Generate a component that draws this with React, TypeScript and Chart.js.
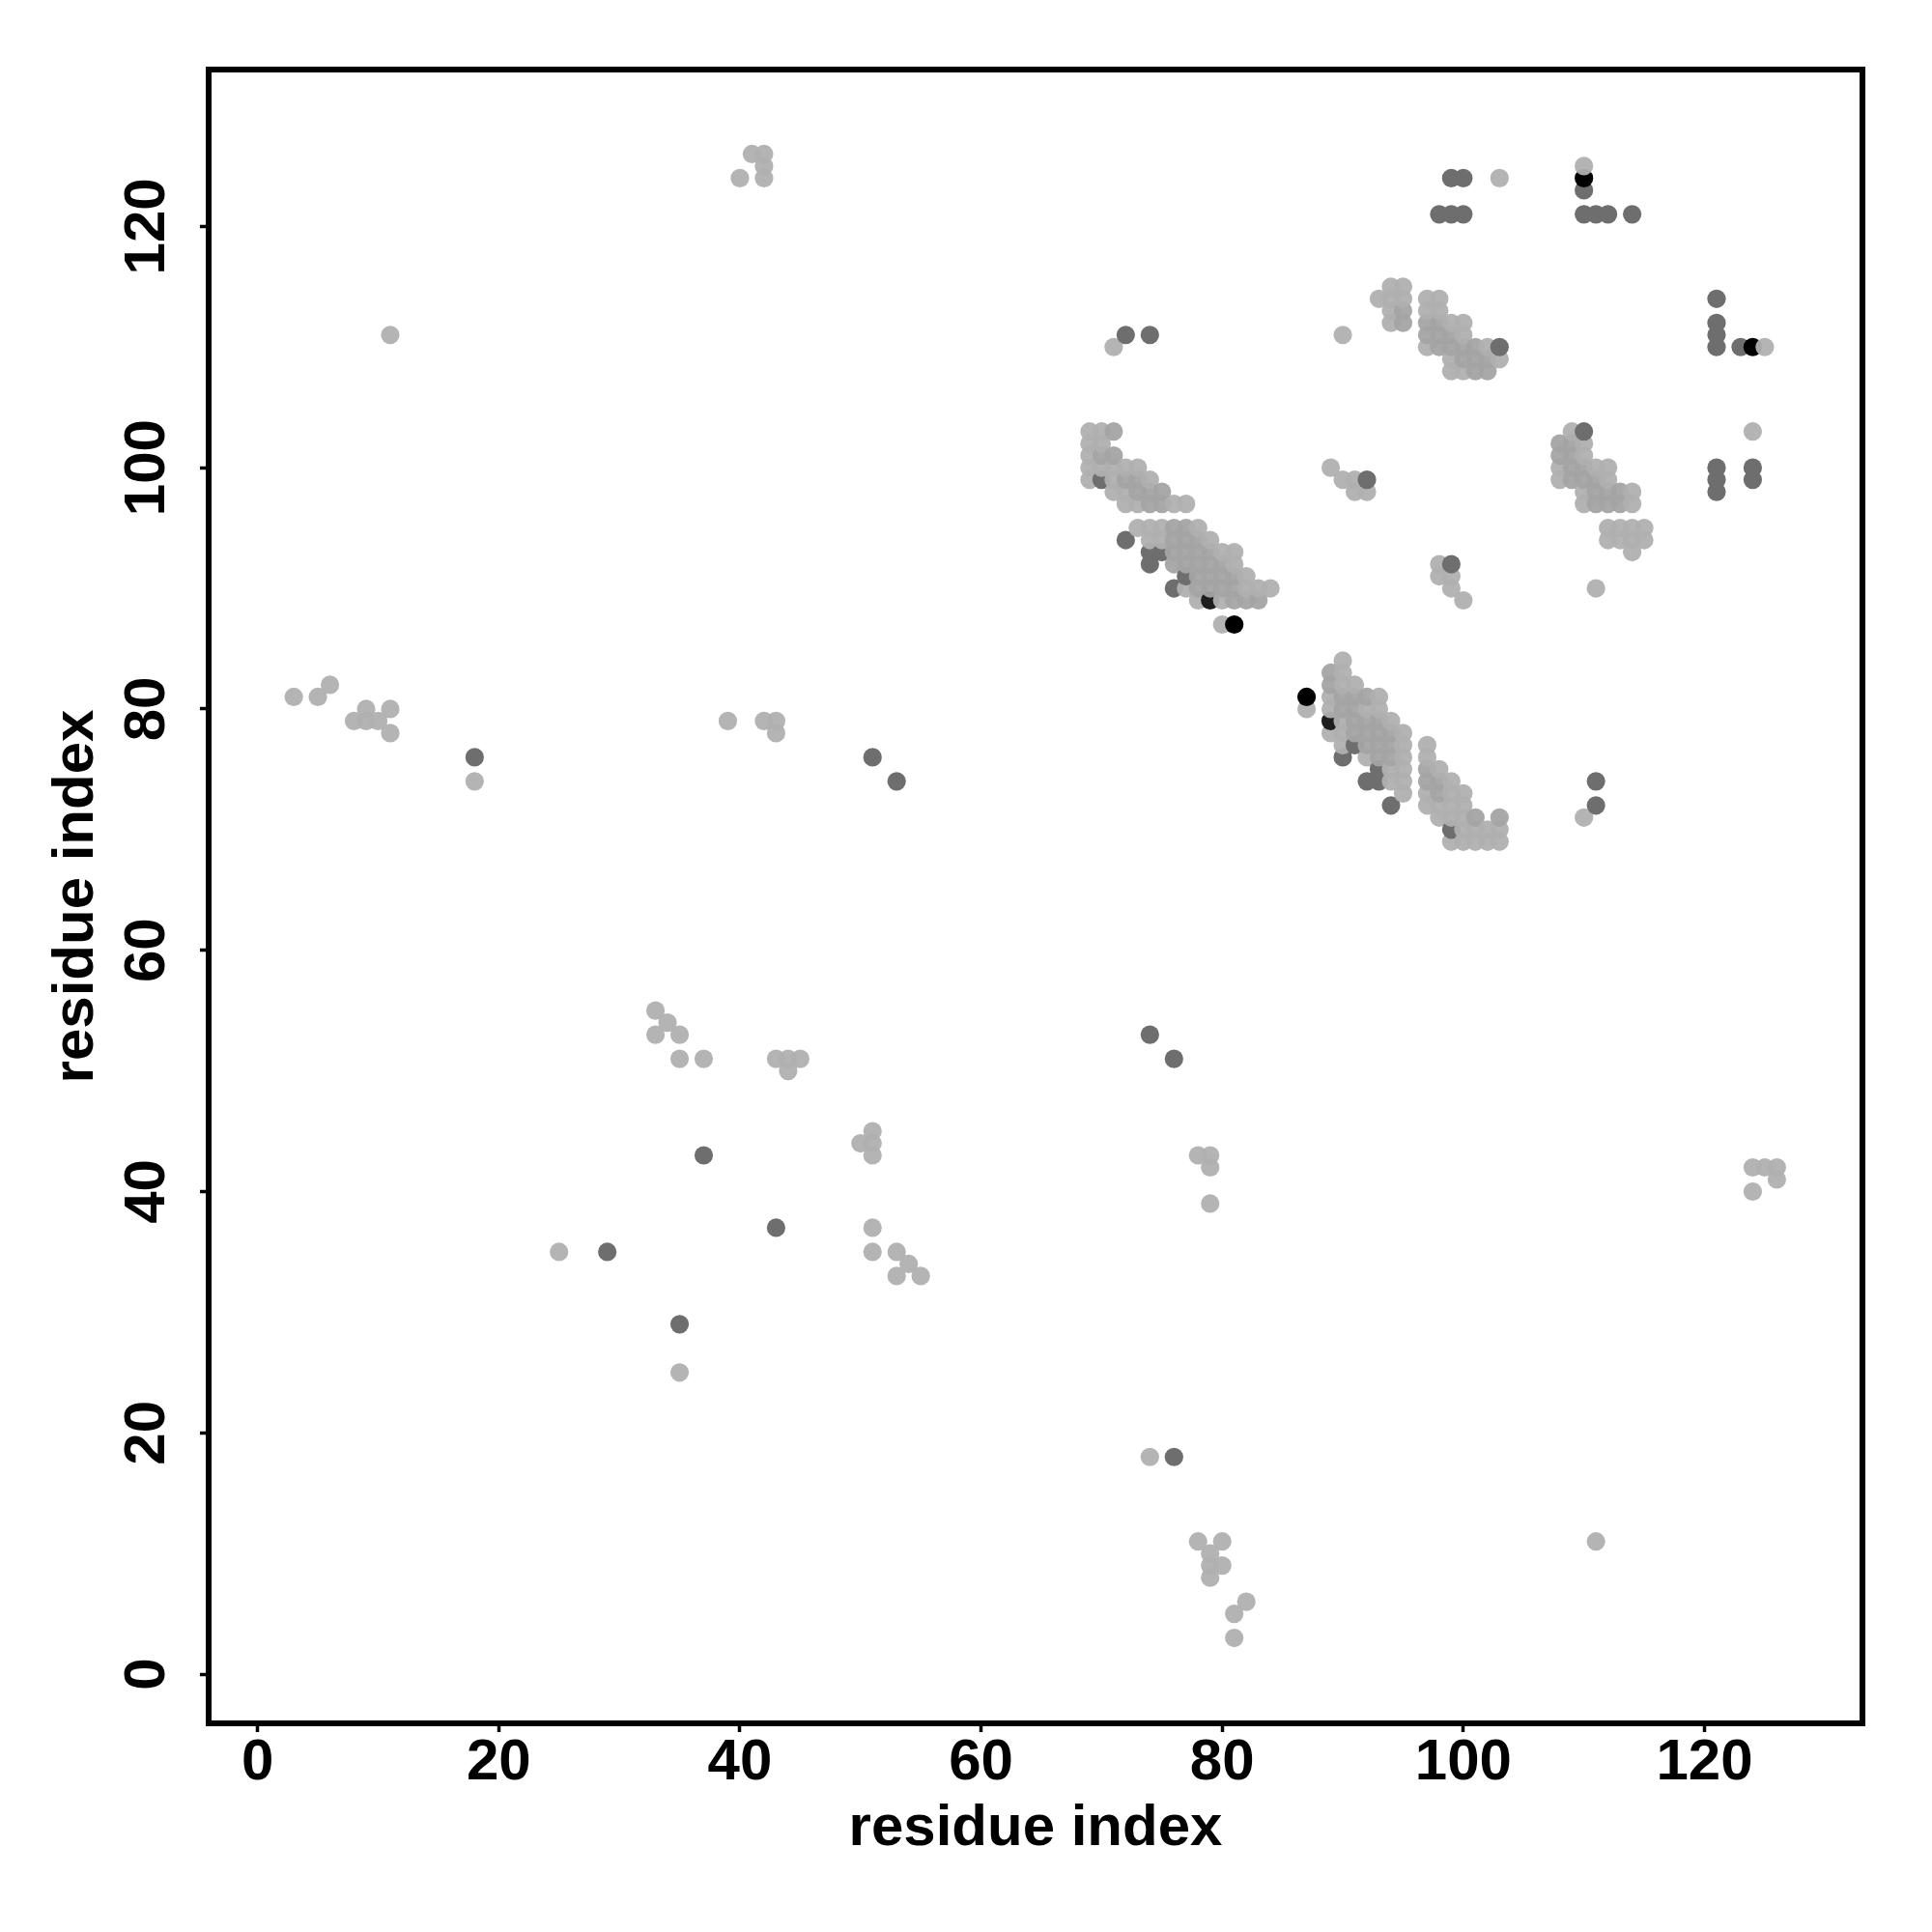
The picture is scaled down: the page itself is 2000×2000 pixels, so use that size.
import React, { useEffect, useRef } from "react";
import { Chart, registerables } from "chart.js";

Chart.register(...registerables);

const tickValues = [0, 20, 40, 60, 80, 100, 120];
const axisTitle = "residue index";

// [y, [x, x, ...]]
type Row = [number, number[]];

const lightRows: Row[] = [
  [126, [41, 42]], [125, [42, 110]], [124, [40, 42, 103]],
  [115, [94, 95]], [114, [93, 94, 95, 97, 98]], [113, [94, 95, 97, 98]],
  [112, [94, 95, 97, 98, 99, 100]], [111, [11, 90, 97, 98, 99, 100]],
  [110, [71, 97, 98, 99, 100, 101, 102, 125]], [109, [99, 100, 101, 102, 103]],
  [108, [99, 100, 101, 102]],
  [103, [69, 70, 109, 124]], [102, [69, 70, 108, 109, 110]],
  [101, [69, 108, 109, 110]], [100, [69, 70, 71, 72, 73, 89, 108, 109, 110, 111, 112]],
  [99, [69, 71, 72, 73, 74, 90, 91, 108, 109, 110, 111, 112]],
  [98, [71, 72, 73, 74, 75, 91, 92, 110, 111, 112, 113, 114]],
  [97, [72, 73, 74, 75, 76, 77, 110, 111, 112, 113, 114]],
  [95, [73, 74, 75, 76, 77, 78, 112, 113, 114, 115]],
  [94, [74, 75, 76, 77, 78, 79, 112, 113, 114, 115]],
  [93, [76, 77, 78, 79, 80, 81, 114]],
  [92, [76, 77, 78, 79, 80, 81, 98]],
  [91, [78, 79, 80, 81, 82, 98, 99]],
  [90, [77, 78, 79, 80, 81, 82, 83, 84, 99, 111]],
  [89, [78, 80, 81, 82, 83, 100]],
  [87, [80]],
  [84, [90]], [83, [90]], [82, [6, 90, 91]],
  [81, [3, 5, 89, 90, 91, 92, 93]],
  [80, [9, 11, 87, 89, 90, 91, 92, 93]],
  [79, [8, 9, 10, 39, 42, 43, 90, 91, 92, 93, 94]],
  [78, [11, 43, 89, 90, 91, 92, 93, 94, 95]],
  [77, [90, 92, 93, 94, 95, 97]],
  [76, [92, 93, 94, 95, 97]],
  [75, [94, 95, 97, 98]],
  [74, [18, 94, 95, 97, 98, 99]],
  [73, [95, 97, 98, 99, 100]],
  [72, [97, 98, 99, 100]],
  [71, [98, 99, 100, 110]],
  [70, [100, 101, 102, 103]],
  [69, [99, 100, 101, 102, 103]],
  [55, [33]], [54, [34]], [53, [33, 35]], [51, [35, 37, 43, 44, 45]], [50, [44]],
  [45, [51]], [44, [50, 51]], [43, [51, 78, 79]], [42, [79, 124, 125, 126]],
  [41, [126]], [40, [124]], [39, [79]], [37, [51]], [35, [25, 51, 53]],
  [34, [54]], [33, [53, 55]], [25, [35]], [18, [74]],
  [11, [78, 80, 111]], [10, [79]], [9, [79, 80]], [8, [79]], [6, [82]], [5, [81]], [3, [81]],
];

// slightly darker grey cells, inside the dense clusters
const midRows: Row[] = [
  [103, [71]], [102, [108, 109]], [101, [70, 71, 108, 109]], [100, [109, 110]],
  [99, [72, 73, 109, 110, 111]], [98, [73, 74, 75, 111, 112, 113]], [97, [74, 75, 111, 112, 113]],
  [113, [95]], [112, [95, 97, 98]], [111, [97, 98, 99]], [110, [98, 99, 100, 101]],
  [109, [100, 101, 102]], [108, [101, 102]],
  [95, [76, 77]], [94, [76, 77, 78]], [93, [76, 77, 78, 79]], [92, [76, 77, 78, 79, 80]],
  [91, [78, 79, 80, 81]], [90, [78, 79, 80, 81]], [89, [81, 82, 83]],
  [83, [89]], [82, [89]], [81, [90, 91, 92]], [80, [90, 91]], [79, [91, 92, 93]],
  [78, [91, 92, 93, 94]], [77, [92, 93, 94]], [76, [93, 94]],
  [75, [97]], [74, [97, 98]], [73, [98]], [71, [101, 103]],
];

const darkRows: Row[] = [
  [124, [99, 100]], [123, [110]], [121, [98, 99, 100, 110, 111, 112, 114]],
  [114, [121]], [112, [121]], [111, [72, 74, 121]], [110, [103, 121, 123]],
  [103, [110]], [100, [121, 124]], [99, [70, 92, 121, 124]], [98, [121]],
  [94, [72]], [93, [74, 75]], [92, [74, 99]], [91, [77]], [90, [76]],
  [77, [91]], [76, [18, 51, 90]], [75, [93]], [74, [53, 92, 93, 111]],
  [72, [94, 111]], [70, [99]],
  [53, [74]], [51, [76]], [43, [37]], [37, [43]], [35, [29]], [29, [35]], [18, [76]],
];

const nearBlackRows: Row[] = [[89, [79]], [79, [89]]];

const blackRows: Row[] = [[124, [110]], [110, [124]], [87, [81]], [81, [87]]];

const lightColor = "rgba(176,176,176,0.95)";
const midColor = "rgba(164,164,164,0.95)";
const darkColor = "#6e6e6e";
const nearBlackColor = "#1e1e1e";
const blackColor = "#000000";

type Pt = { x: number; y: number; c: string };

function expand(rows: Row[], c: string): Pt[] {
  const out: Pt[] = [];
  for (const [y, xs] of rows) for (const x of xs) out.push({ x, y, c });
  return out;
}

const midPoints = expand(midRows, midColor);
const midKeys = new Set(midPoints.map((p) => p.x + ":" + p.y));

const points: Pt[] = [
  ...expand(lightRows, lightColor).filter((p) => !midKeys.has(p.x + ":" + p.y)),
  ...midPoints,
  ...expand(darkRows, darkColor),
  ...expand(nearBlackRows, nearBlackColor),
  ...expand(blackRows, blackColor),
].sort((a, b) => a.x - b.x || a.y - b.y);

const frame = {
  id: "frame",
  afterDraw(chart: any) {
    const { ctx, chartArea: a } = chart;
    ctx.save();
    ctx.strokeStyle = "#000";
    ctx.lineWidth = 6;
    ctx.lineJoin = "miter";
    ctx.strokeRect(a.left, a.top, a.right - a.left, a.bottom - a.top);
    ctx.restore();
  },
};

const font = { family: "'Liberation Sans'", size: 60, weight: "bold" as const };

export default function App() {
  const ref = useRef<HTMLCanvasElement>(null);
  useEffect(() => {
    const chart = new Chart(ref.current as HTMLCanvasElement, {
      type: "scatter",
      data: {
        datasets: [
          {
            data: points as any,
            pointRadius: 9.6,
            pointHoverRadius: 9.6,
            pointBorderWidth: 0,
            pointBackgroundColor: points.map((p) => p.c),
          },
        ],
      },
      plugins: [frame],
      options: {
        responsive: false,
        animation: false,
        layout: { padding: { top: 72, right: 72, left: 0, bottom: 0 } },
        plugins: { legend: { display: false }, tooltip: { enabled: false } },
        scales: {
          x: {
            type: "linear",
            min: -4.06,
            max: 133.1,
            afterBuildTicks: (s: any) => {
              s.ticks = tickValues.map((value) => ({ value }));
            },
            afterFit: (s: any) => {
              s.height = 216;
            },
            grid: { drawOnChartArea: false, drawTicks: true, tickLength: 9, tickWidth: 3.5, tickColor: "#000" },
            border: { display: false },
            ticks: { autoSkip: false, maxRotation: 0, minRotation: 0, color: "#000", font, padding: -4 },
            title: { display: true, text: axisTitle, color: "#000", font, padding: { top: 0, bottom: 71 } },
          },
          y: {
            type: "linear",
            min: -4.08,
            max: 133,
            afterBuildTicks: (s: any) => {
              s.ticks = tickValues.map((value) => ({ value }));
            },
            afterFit: (s: any) => {
              s.width = 216;
            },
            grid: { drawOnChartArea: false, drawTicks: true, tickLength: 9, tickWidth: 3.5, tickColor: "#000" },
            border: { display: false },
            ticks: {
              autoSkip: false,
              minRotation: 90,
              maxRotation: 90,
              crossAlign: "center",
              color: "#000",
              font,
              padding: 3,
            },
            title: { display: true, text: axisTitle, color: "#000", font, padding: { top: 43, bottom: 0 } },
          },
        },
      },
    } as any);
    return () => chart.destroy();
  }, []);
  return (
    <div style={{ position: "absolute", left: 0, top: 0, width: 2000, height: 2000, background: "#fff" }}>
      <canvas ref={ref} width={2000} height={2000} style={{ display: "block" }} />
    </div>
  );
}
